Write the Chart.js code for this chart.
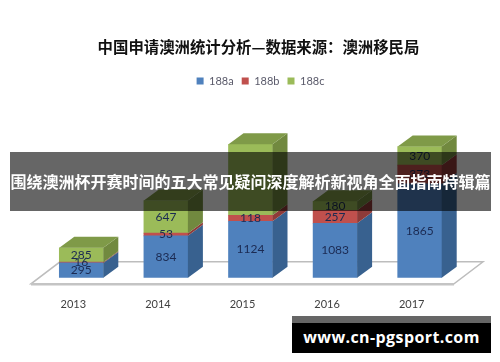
<!DOCTYPE html>
<html lang="zh">
<head>
  <meta charset="UTF-8">
  <title>中国申请澳洲统计分析</title>
  <script src="https://cdn.jsdelivr.net/npm/chart.js"></script>
  <style>
    html, body { margin: 0; padding: 0; background: #fff; }
    #wrap { position: relative; width: 500px; height: 362px; overflow: hidden; }
    #banner {
      position: absolute; left: 10px; top: 152px; width: 481px; height: 59px;
      background: rgba(0, 0, 0, 0.6); color: #fff;
      font: bold 16px "Noto Sans CJK SC", sans-serif;
      line-height: 59px; text-align: center; white-space: nowrap;
    }
    #site {
      position: absolute; left: 292px; top: 316px; width: 199px; height: 37px;
      background: #000; border-top: 7px solid #666; box-sizing: border-box; color: #fff;
      font: bold 16px "Open Sans", sans-serif;
      line-height: 29px; text-align: center; letter-spacing: 0.4px;
    }
  </style>
</head>
<body>
<div id="wrap">
  <canvas id="chart" width="500" height="362"></canvas>
  <div id="banner">围绕澳洲杯开赛时间的五大常见疑问深度解析新视角全面指南特辑篇</div>
  <div id="site">www.cn-pgsport.com</div>
</div>

<script>
  const years = ['2013', '2014', '2015', '2016', '2017'];
  const a188 = [295, 834, 1124, 1083, 1865];
  const b188 = [16, 53, 118, 257, 373];
  const c188 = [285, 647, 1410, 180, 370];
  // la etiqueta de 2015 en 188c no se ve en la imagen
  const labelsC = ['285', '647', '', '180', '370'];

  const yMax = 3602;
  const depthX = 15;
  const depthY = 11;

  const colores = [
    { front: '#4f81bd', side: '#38618f', top: '#4a76aa' },
    { front: '#c0504d', side: '#8e3b39', top: '#a84744' },
    { front: '#9bbb59', side: '#71893f', top: '#7f9a48' }
  ];

  function poly(ctx, pts, fill) {
    ctx.beginPath();
    pts.forEach((p, i) => i ? ctx.lineTo(p[0], p[1]) : ctx.moveTo(p[0], p[1]));
    ctx.closePath();
    ctx.fillStyle = fill;
    ctx.fill();
  }

  // titulo y leyenda van un poco a la derecha del centro
  const shiftPlugin = {
    id: 'shift',
    afterLayout(chart) {
      chart.titleBlock.left += 8;
      chart.titleBlock.right += 8;
      chart.legend.left += 10;
      chart.legend.right += 10;
    }
  };

  // piso gris detras de las barras
  const floorPlugin = {
    id: 'floor',
    beforeDatasetsDraw(chart) {
      const ctx = chart.ctx;
      const y0 = chart.scales.y.getPixelForValue(0);
      ctx.save();
      ctx.strokeStyle = '#bdbdbd';
      ctx.lineWidth = 1.5;
      ctx.beginPath();
      ctx.moveTo(60, y0 - 16);
      ctx.lineTo(483, y0 - 16);
      ctx.lineTo(454, y0 + 6);
      ctx.lineTo(31, y0 + 6);
      ctx.closePath();
      ctx.stroke();
      ctx.strokeStyle = '#c4c4c4';
      ctx.lineWidth = 2.5;
      ctx.beginPath();
      ctx.moveTo(31, y0 + 6.5);
      ctx.lineTo(454, y0 + 6.5);
      ctx.stroke();
      ctx.restore();
    }
  };

  // caras laterales y superior de cada tramo, mas las etiquetas
  const bars3dPlugin = {
    id: 'bars3d',
    afterDatasetsDraw(chart) {
      const ctx = chart.ctx;
      chart.data.datasets.forEach((ds, d) => {
        chart.getDatasetMeta(d).data.forEach(bar => {
          const r = bar.x + bar.width / 2;
          poly(ctx, [[r, bar.y], [r + depthX, bar.y - depthY], [r + depthX, bar.base - depthY], [r, bar.base]], colores[d].side);
          if (d === chart.data.datasets.length - 1) {
            const l = bar.x - bar.width / 2;
            poly(ctx, [[l, bar.y], [l + depthX, bar.y - depthY], [r + depthX, bar.y - depthY], [r, bar.y]], colores[d].top);
          }
        });
      });
      ctx.save();
      ctx.font = '12px Lato, sans-serif';
      ctx.fillStyle = '#1b2a52';
      ctx.textAlign = 'center';
      ctx.textBaseline = 'middle';
      chart.data.datasets.forEach((ds, d) => {
        chart.getDatasetMeta(d).data.forEach((bar, i) => {
          const txt = d === 2 ? labelsC[i] : String(ds.data[i]);
          ctx.fillText(txt, bar.x, (bar.y + bar.base) / 2);
        });
      });
      ctx.restore();
    }
  };

  new Chart(document.getElementById('chart'), {
    type: 'bar',
    data: {
      labels: years,
      datasets: [
        { label: '188a', data: a188, backgroundColor: colores[0].front },
        { label: '188b', data: b188, backgroundColor: colores[1].front },
        { label: '188c', data: c188, backgroundColor: colores[2].front }
      ]
    },
    options: {
      responsive: false,
      animation: false,
      layout: { padding: { left: 39, right: 38, top: 38, bottom: 39 } },
      datasets: { bar: { barThickness: 44 } },
      plugins: {
        title: {
          display: true,
          text: '中国申请澳洲统计分析—数据来源：澳洲移民局',
          color: '#111',
          font: { family: '"Noto Sans CJK SC", sans-serif', size: 15.4, weight: 'bold' },
          padding: { top: 0, bottom: 11 }
        },
        legend: {
          position: 'top',
          labels: {
            boxWidth: 7, boxHeight: 7, padding: 8, color: '#5a5a6a',
            font: { family: 'Lato, sans-serif', size: 11 }
          }
        },
        tooltip: { enabled: false }
      },
      scales: {
        x: {
          stacked: true,
          grid: { display: false },
          border: { display: false },
          ticks: { color: '#404040', padding: 12, labelOffset: -8, font: { family: 'Lato, sans-serif', size: 11 } }
        },
        y: { stacked: true, display: false, min: 0, max: yMax }
      }
    },
    plugins: [shiftPlugin, floorPlugin, bars3dPlugin]
  });
</script>
</body>
</html>
